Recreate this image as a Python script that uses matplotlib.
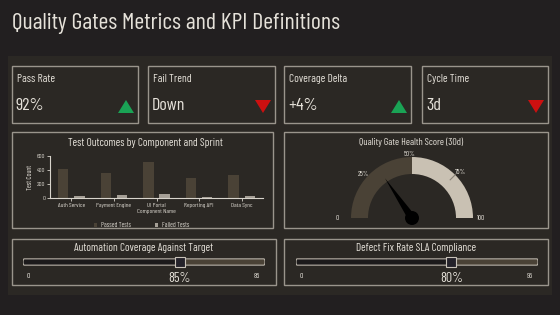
import numpy as np
import matplotlib
matplotlib.use("Agg")
import matplotlib.pyplot as plt
from matplotlib.patches import Rectangle, Wedge, Polygon, Circle, FancyBboxPatch

plt.rcParams["font.family"] = ["Barlow Condensed", "Archivo Narrow", "Liberation Sans", "DejaVu Sans"]

# KPI cards
kpi_labels = ["Pass Rate", "Fail Trend", "Coverage Delta", "Cycle Time"]
kpi_values = ["92%", "Down", "+4%", "3d"]
kpi_up = [True, False, True, False]

# Test outcomes
components = ["Auth Service", "Payment Engine", "UI Portal\nComponent Name", "Reporting API", "Data Sync"]
passed_tests = [420, 360, 520, 280, 325]
failed_tests = [35, 45, 55, 15, 35]

# Gauge
gauge_value = 31
gauge_tick_labels = ["0", "25%", "50%", "75%", "100"]

# Bullets
bullet_titles = ["Automation Coverage Against Target", "Defect Fix Rate SLA Compliance"]
bullet_labels = ["85%", "80%"]
bullet_max = [85, 95]
bullet_marker = [55, 61]

BG = "#221f20"
BODY = "#2b2824"
EDGE = "#9a958c"
TXT = "#e6e2da"
DARK = "#4a4236"
LIGHT = "#c9c1b3"
GREEN = "#1aa355"
RED = "#cc1010"

W, H = 560, 315
fig = plt.figure(figsize=(W / 100, H / 100), dpi=100, facecolor=BG)


def rect(x0, y0, x1, y1):
    return [x0 / W, 1 - y1 / H, (x1 - x0) / W, (y1 - y0) / H]


bg = fig.add_axes([0, 0, 1, 1])
bg.set_xlim(0, W)
bg.set_ylim(H, 0)
bg.axis("off")
bg.add_patch(Rectangle((8, 56), 544, 239, color=BODY, lw=0))
bg.text(12, 24, "Quality Gates Metrics and KPI Definitions", color=TXT,
        fontsize=17.2, va="center", ha="left")


def box(x0, y0, x1, y1):
    bg.add_patch(Rectangle((x0, y0), x1 - x0, y1 - y0, fill=False, ec=EDGE, lw=1))


# KPI cards
card_x = [(12, 138), (148, 275), (284, 411), (422, 548)]
for (x0, x1), lab, val, up in zip(card_x, kpi_labels, kpi_values, kpi_up):
    box(x0, 66, x1, 123)
    bg.text(x0 + 5, 79, lab, color=TXT, fontsize=8.2, va="center")
    bg.text(x0 + 4, 106, val, color=TXT, fontsize=13, va="center")
    cx = x1 - 12
    if up:
        tri = [(cx - 8, 113), (cx + 8, 113), (cx, 100)]
        c = GREEN
    else:
        tri = [(cx - 8, 100), (cx + 8, 100), (cx, 113)]
        c = RED
    bg.add_patch(Polygon(tri, closed=True, color=c, lw=0))

# Bar chart panel
box(12, 132, 273, 228)
bg.text(145, 143, "Test Outcomes by Component and Sprint", color=TXT, fontsize=8.1,
        ha="center", va="center")
ax = fig.add_axes(rect(50, 156, 263, 198))
ax.set_facecolor("none")
x = np.arange(len(components))
ax.bar(x - 0.19, passed_tests, width=0.24, color=DARK, label="Passed Tests")
ax.bar(x + 0.19, failed_tests, width=0.24, color="#a59f96", label="Failed Tests")
ax.set_xlim(-0.5, len(components) - 0.5)
ax.set_ylim(0, 600)
ax.set_yticks([0, 200, 400, 600])
ax.set_xticks(x)
ax.set_xticklabels(components)
for s in ["top", "right"]:
    ax.spines[s].set_visible(False)
for s in ["left", "bottom"]:
    ax.spines[s].set_color("#d8d4cc")
    ax.spines[s].set_linewidth(0.8)
ax.tick_params(colors="#d8d4cc", labelsize=4.6, length=2, width=0.6, pad=1.5)
ax.set_ylabel("Test Count", color=TXT, fontsize=5, labelpad=2)
leg = ax.legend(loc="upper center", bbox_to_anchor=(0.43, -0.44), ncol=2, frameon=False,
                fontsize=4.8, labelcolor="#d8d4cc", handlelength=0.5, handleheight=0.5,
                columnspacing=3.5, handletextpad=0.6)

# Gauge panel
box(284, 132, 548, 228)
bg.text(411, 142, "Quality Gate Health Score (30d)", color=TXT, fontsize=7.2,
        ha="center", va="center")
gx = fig.add_axes(rect(337, 150, 487, 228))
gx.set_facecolor("none")
gx.axis("off")
cx, cy = 75, 10
gx.set_xlim(0, 150)
gx.set_ylim(0, 78)
r_out, r_in = 61, 44


def ang(v):
    return 180 - v * 1.8


gx.add_patch(Wedge((cx, cy), r_out, ang(50), ang(0), width=r_out - r_in, color=DARK, lw=0))
gx.add_patch(Wedge((cx, cy), r_out, ang(100), ang(50), width=r_out - r_in, color=LIGHT, lw=0))
t = np.radians(ang(75))
gx.plot([cx + (r_out - 7) * np.cos(t), cx + r_out * np.cos(t)],
        [cy + (r_out - 7) * np.sin(t), cy + r_out * np.sin(t)], color="#8a8378", lw=0.8)
label_pos = [(0, 10), (26, 54), (73, 73), (123, 55), (144, 10)]
for (px, py), lab in zip(label_pos, gauge_tick_labels):
    gx.text(px, py, lab, color=TXT, fontsize=5.2, ha="center", va="center")
a = np.radians(ang(gauge_value))
tip = (cx + 48 * np.cos(a), cy + 48 * np.sin(a))
perp = a + np.pi / 2
hw = 4
gx.add_patch(Polygon([tip, (cx + hw * np.cos(perp), cy + hw * np.sin(perp)),
                      (cx - hw * np.cos(perp), cy - hw * np.sin(perp))],
                     closed=True, color="black", lw=0))
gx.add_patch(Circle((cx, cy), 7, color="black", lw=0))

# Bullet panels
bullet_boxes = [(12, 276), (284, 548)]
track_x = [(23, 265), (296, 538)]
for (bx0, bx1), (tx0, tx1), title, lab, mx, mk in zip(
        bullet_boxes, track_x, bullet_titles, bullet_labels, bullet_max, bullet_marker):
    box(bx0, 239, bx1, 285)
    bg.text((bx0 + bx1) / 2, 248, title, color=TXT, fontsize=8.1, ha="center", va="center")
    bx = fig.add_axes(rect(tx0, 255, tx1, 269))
    bx.set_facecolor("none")
    bx.axis("off")
    bx.set_xlim(0, mx)
    bx.set_ylim(-1, 1)
    bx.add_patch(FancyBboxPatch((0, -0.45), mx, 0.9, boxstyle="round,pad=0,rounding_size=0.45",
                                mutation_aspect=1, fc=DARK, ec="none"))
    bx.add_patch(FancyBboxPatch((0, -0.45), mk, 0.9, boxstyle="round,pad=0,rounding_size=0.45",
                                fc="#1c1a1b", ec="none"))
    bx.add_patch(FancyBboxPatch((0, -0.45), mx, 0.9, boxstyle="round,pad=0,rounding_size=0.45",
                                fc="none", ec="#b8b2a8", lw=0.8))
    bx.plot([mk], [0], marker="s", ms=7.8, mfc="#24222a", mec="#c8c2b8", mew=0.8)
    bg.text(tx0 + 5, 277, "0", color=TXT, fontsize=5.5, ha="center", va="center")
    bg.text(tx1 - 8, 277, str(mx), color=TXT, fontsize=5.5, ha="center", va="center")
    bg.text(tx0 + (tx1 - tx0) * mk / mx, 278, lab, color=TXT, fontsize=10, ha="center", va="center")

fig.savefig("out.png", dpi=100, facecolor=BG)
